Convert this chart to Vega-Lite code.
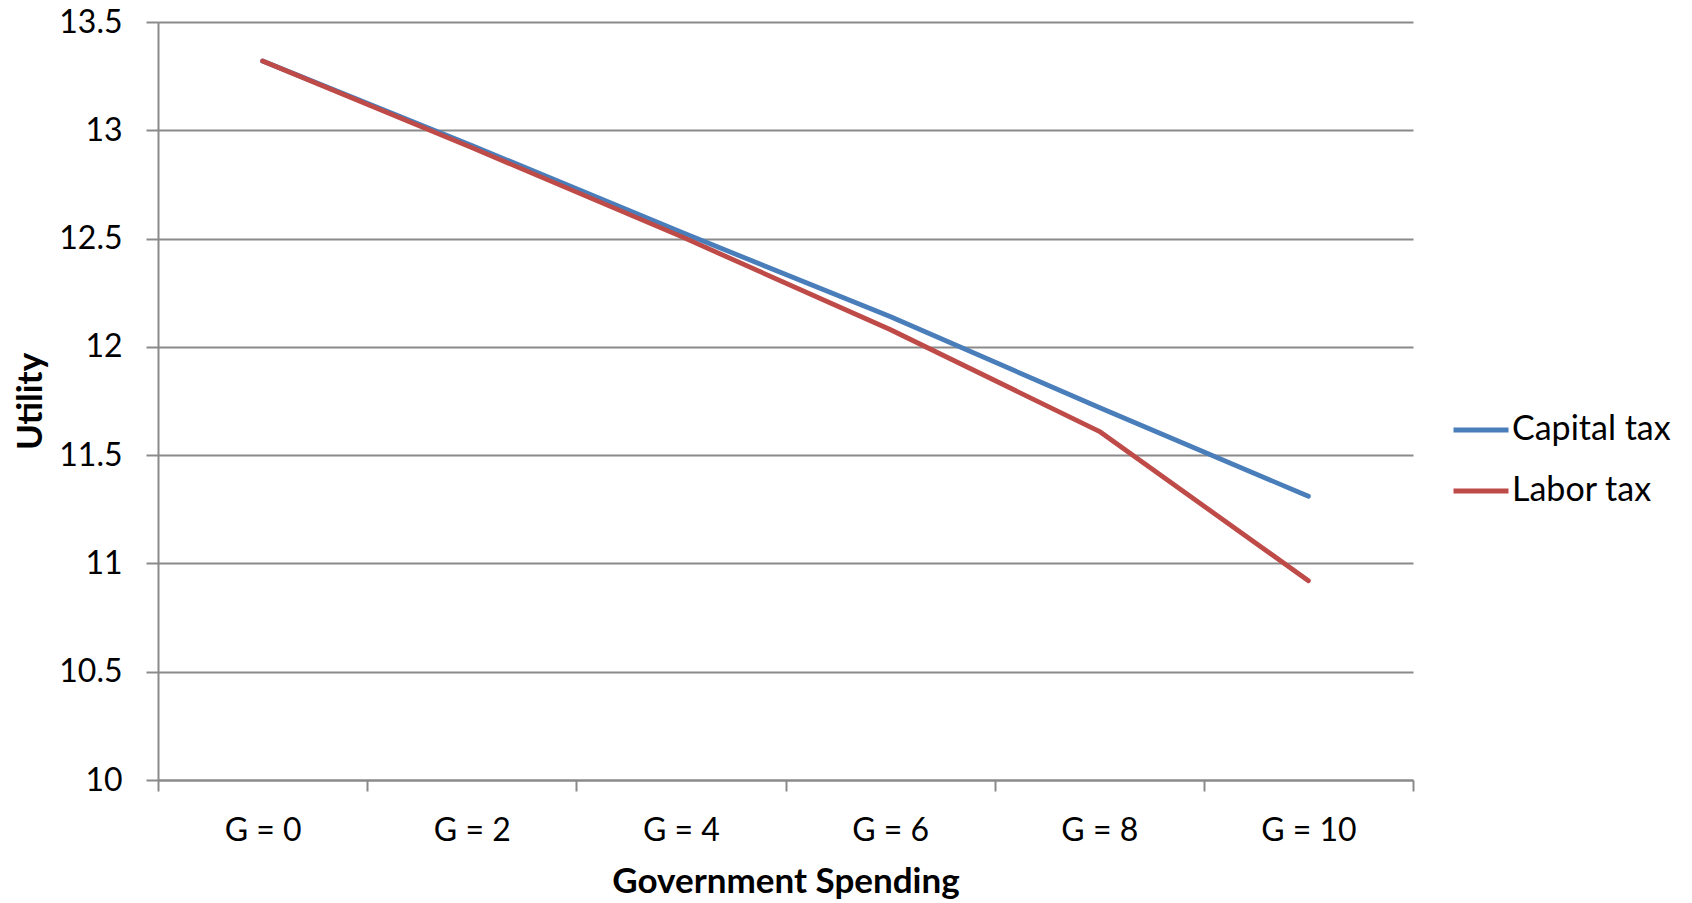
{
  "$schema": "https://vega.github.io/schema/vega-lite/v6.json",
  "width": 1255,
  "height": 758,
  "autosize": {"type": "none"},
  "padding": {"left": 158, "top": 22, "right": 279, "bottom": 123},
  "background": "white",
  "config": {
    "font": "Lato",
    "view": {"stroke": null},
    "axis": {"labelFont": "Lato", "titleFont": "Lato", "labelColor": "#000000", "titleColor": "#000000"}
  },
  "data": {
    "values": [
      {"G": "G = 0", "series": "Capital tax", "utility": 13.32},
      {"G": "G = 2", "series": "Capital tax", "utility": 12.93},
      {"G": "G = 4", "series": "Capital tax", "utility": 12.53},
      {"G": "G = 6", "series": "Capital tax", "utility": 12.14},
      {"G": "G = 8", "series": "Capital tax", "utility": 11.72},
      {"G": "G = 10", "series": "Capital tax", "utility": 11.31},
      {"G": "G = 0", "series": "Labor tax", "utility": 13.32},
      {"G": "G = 2", "series": "Labor tax", "utility": 12.92},
      {"G": "G = 4", "series": "Labor tax", "utility": 12.51},
      {"G": "G = 6", "series": "Labor tax", "utility": 12.08},
      {"G": "G = 8", "series": "Labor tax", "utility": 11.61},
      {"G": "G = 10", "series": "Labor tax", "utility": 10.92}
    ]
  },
  "mark": {"type": "line", "strokeWidth": 4.8, "strokeCap": "round", "strokeJoin": "round"},
  "encoding": {
    "x": {
      "field": "G",
      "type": "ordinal",
      "sort": ["G = 0", "G = 2", "G = 4", "G = 6", "G = 8", "G = 10"],
      "scale": {"paddingInner": 0, "paddingOuter": 0},
      "axis": {
        "title": "Government Spending",
        "titleFontSize": 35,
        "titleFontWeight": "bold",
        "titleX": 627.5,
        "titleY": 112,
        "titleBaseline": "alphabetic",
        "titleAlign": "center",
        "labelAngle": 0,
        "labelFontSize": 32,
        "labelPadding": 24,
        "tickSize": 11,
        "tickBand": "extent",
        "tickColor": "#8a8a8a",
        "tickWidth": 2,
        "domainColor": "#8a8a8a",
        "domainWidth": 2,
        "grid": false
      }
    },
    "y": {
      "field": "utility",
      "type": "quantitative",
      "scale": {"domain": [10, 13.5], "nice": false, "zero": false},
      "axis": {
        "title": "Utility",
        "titleFontSize": 35,
        "titleFontWeight": "bold",
        "titleAngle": 270,
        "titleX": -128,
        "titleY": 379,
        "titleAlign": "center",
        "titleBaseline": "middle",
        "values": [10, 10.5, 11, 11.5, 12, 12.5, 13, 13.5],
        "format": "~g",
        "labelFontSize": 32,
        "labelPadding": 24,
        "tickSize": 12,
        "tickColor": "#8a8a8a",
        "tickWidth": 2,
        "domainColor": "#8a8a8a",
        "domainWidth": 2,
        "grid": true,
        "gridColor": "#8a8a8a",
        "gridWidth": 2
      }
    },
    "color": {
      "field": "series",
      "type": "nominal",
      "scale": {"domain": ["Capital tax", "Labor tax"], "range": ["#4a7ebb", "#be4b48"]},
      "legend": {
        "title": null,
        "orient": "none",
        "legendX": 1293,
        "legendY": 378,
        "padding": 0,
        "symbolType": "stroke",
        "symbolSize": 3025,
        "symbolStrokeWidth": 4.8,
        "labelFontSize": 34,
        "labelFont": "Lato",
        "labelColor": "#000000",
        "labelOffset": 1,
        "rowPadding": 14
      }
    }
  }
}
